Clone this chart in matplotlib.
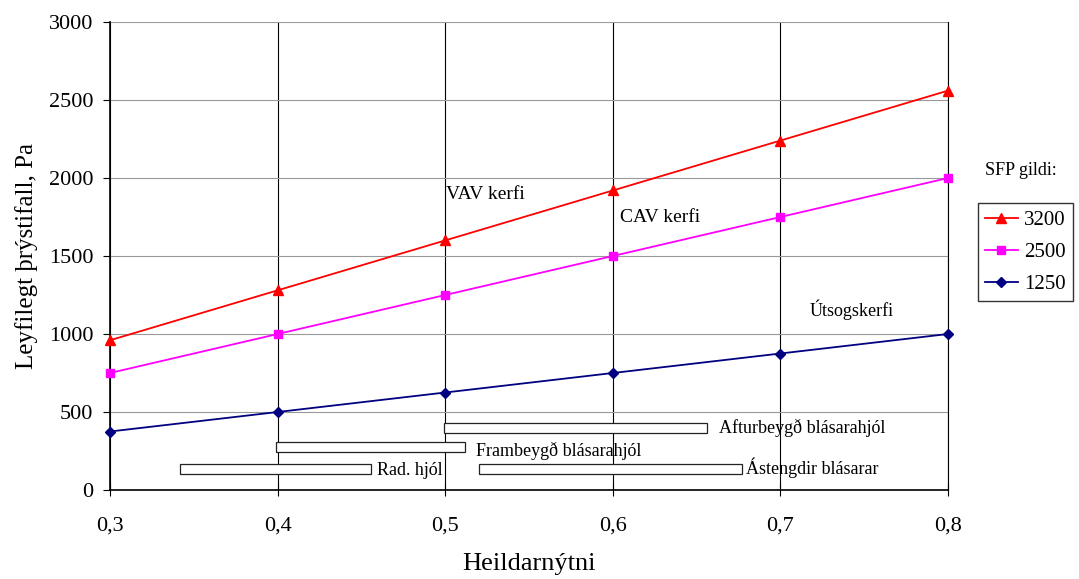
import matplotlib
matplotlib.use('Agg')
import matplotlib.pyplot as plt
from matplotlib.patches import Rectangle

plt.rcParams['font.family'] = ['Liberation Serif', 'DejaVu Serif']

# data
efficiency = [0.3, 0.4, 0.5, 0.6, 0.7, 0.8]
p_3200 = [960, 1280, 1600, 1920, 2240, 2560]
p_2500 = [750, 1000, 1250, 1500, 1750, 2000]
p_1250 = [375, 500, 625, 750, 875, 1000]
x_ticks = [0.3, 0.4, 0.5, 0.6, 0.7, 0.8]
x_tick_labels = ['0,3', '0,4', '0,5', '0,6', '0,7', '0,8']
y_ticks = [0, 500, 1000, 1500, 2000, 2500, 3000]

# fan type ranges: (label, x_min, x_max, y_min, y_max)
fan_names = ['Afturbeygð blásarahjól', 'Frambeygð blásarahjól', 'Rad. hjól', 'Ástengdir blásarar']
fan_x0 = [0.499, 0.399, 0.342, 0.520]
fan_x1 = [0.656, 0.512, 0.456, 0.677]
fan_y0 = [365, 244, 103, 103]
fan_y1 = [429, 308, 167, 167]

fig = plt.figure(figsize=(10.79, 5.79), dpi=100)
ax = fig.add_axes([0.102, 0.1537, 0.7766, 0.8083])

ax.plot(efficiency, p_3200, color='#ff0000', marker='^', markersize=7, lw=1.3, label='3200', clip_on=False, zorder=5)
ax.plot(efficiency, p_2500, color='#ff00ff', marker='s', markersize=6, lw=1.3, label='2500', clip_on=False, zorder=5)
ax.plot(efficiency, p_1250, color='#000080', marker='D', markersize=5.5, lw=1.3, label='1250', clip_on=False, zorder=5)

for name, x0, x1, y0, y1 in zip(fan_names, fan_x0, fan_x1, fan_y0, fan_y1):
    ax.add_patch(Rectangle((x0, y0), x1 - x0, y1 - y0, facecolor='white', edgecolor='#222222', lw=0.9, zorder=4))

# labels next to the boxes
ax.text(0.6635, 397, fan_names[0], fontsize=13, va='center', ha='left', zorder=6)
ax.text(0.5185, 248, fan_names[1], fontsize=13, va='center', ha='left', zorder=6)
ax.text(0.4595, 128, fan_names[2], fontsize=13, va='center', ha='left', zorder=6)
ax.text(0.6795, 142, fan_names[3], fontsize=13, va='center', ha='left', zorder=6)

ax.text(0.5005, 1895, 'VAV kerfi', fontsize=14, va='center', ha='left')
ax.text(0.6045, 1745, 'CAV kerfi', fontsize=14, va='center', ha='left')
ax.text(0.7175, 1155, 'Útsogskerfi', fontsize=13, va='center', ha='left')

ax.set_xlim(0.3, 0.8)
ax.set_ylim(0, 3000)
ax.set_xticks(x_ticks)
ax.set_xticklabels(x_tick_labels)
ax.set_yticks(y_ticks)
ax.tick_params(axis='x', direction='inout', length=8, pad=15, labelsize=16)
ax.tick_params(axis='y', direction='out', length=5, pad=7, labelsize=16)

ax.grid(axis='x', color='black', lw=0.8)
ax.grid(axis='y', color='#999999', lw=0.8)
ax.set_axisbelow(True)
ax.spines['top'].set_visible(False)
ax.spines['right'].set_linewidth(0.8)
ax.spines['left'].set_linewidth(1.2)
ax.spines['bottom'].set_linewidth(1.2)

ax.set_xlabel('Heildarnýtni', fontsize=19, labelpad=13)
ax.set_ylabel('Leyfilegt þrýstifall, Pa', fontsize=18, labelpad=8)

fig.text(0.9125, 0.705, 'SFP gildi:', fontsize=13, ha='left', va='center')
leg = ax.legend(loc='upper left', bbox_to_anchor=(0.9064, 0.6495), bbox_transform=fig.transFigure,
                fontsize=15, frameon=True, fancybox=False, edgecolor='black', borderaxespad=0,
                handlelength=1.55, borderpad=0.35, labelspacing=0.6, handletextpad=0.3)
leg.get_frame().set_linewidth(1.0)

fig.savefig('out.png', dpi=100)
